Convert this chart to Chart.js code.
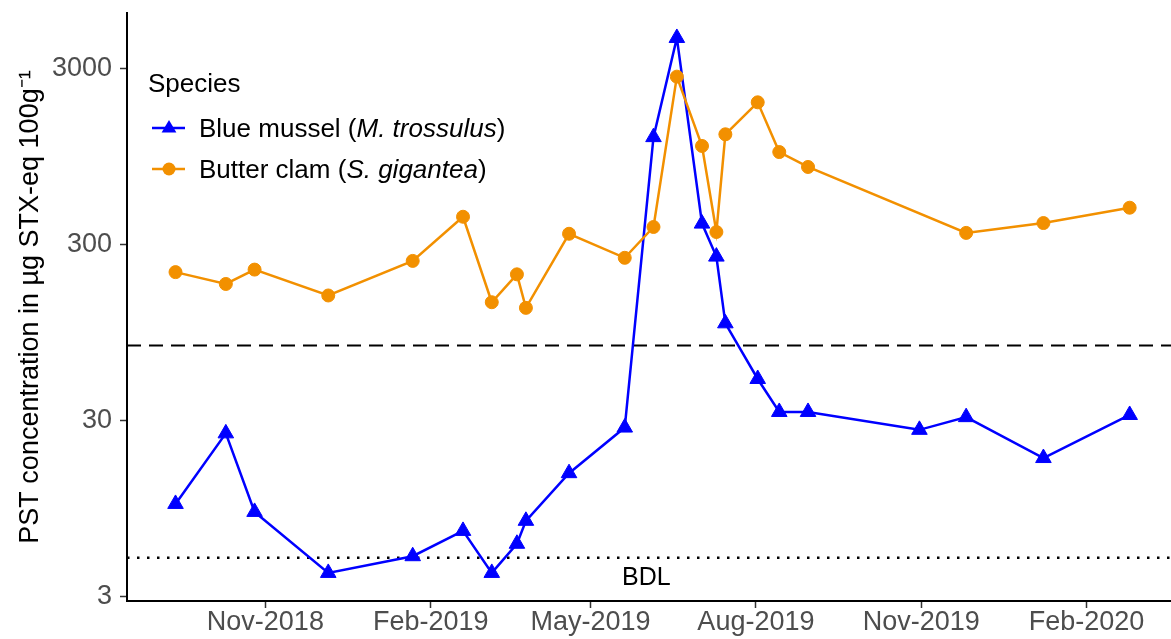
<!DOCTYPE html>
<html>
<head>
<meta charset="utf-8">
<script src="https://cdn.jsdelivr.net/npm/chart.js@4.4.1/dist/chart.umd.min.js"></script>
<style>
  html, body { margin: 0; padding: 0; background: #fff; }
  #wrap { position: relative; width: 1171px; height: 639px; }
  #legend {
    position: absolute; left: 148px; top: 69px;
    font-family: 'Liberation Sans', Arial, Helvetica, sans-serif;
    font-size: 26px; color: #000; line-height: 28px;
  }
  #legend .row { display: flex; align-items: center; height: 28px; }
  #legend .row svg { margin-left: 4px; margin-right: 14px; }
</style>
</head>
<body>
<div id="wrap">
  <canvas id="pstChart" width="1171" height="639"></canvas>
  <div id="legend"></div>
</div>
<script>
(() => {
  // sampling dates shared by both species
  const sampleDates = [
    '2018-09-12', '2018-10-10', '2018-10-26', '2018-12-06', '2019-01-22',
    '2019-02-19', '2019-03-07', '2019-03-21', '2019-03-26', '2019-04-19',
    '2019-05-20', '2019-06-05', '2019-06-18', '2019-07-02', '2019-07-10',
    '2019-07-15', '2019-08-02', '2019-08-14', '2019-08-30', '2019-10-31',
    '2019-11-26', '2020-01-08', '2020-02-25'
  ];
  // PST, µg STX-eq / 100 g
  const musselPST = [
    10.1, 25.4, 9.1, 4.1, 5.1,
    7.1, 4.1, 6.0, 8.1, 15.1,
    27.4, 1220, 4460, 394, 256,
    107, 51.7, 33.6, 33.6, 26.6,
    31.4, 18.4, 32.3
  ];
  const clamPST = [
    209, 179, 216, 154, 242,
    431, 141, 203, 131, 345,
    252, 377, 2690, 1087, 353,
    1266, 1923, 1004, 826, null,
    349, 397, 485
  ];

  const seriesNames = ['Blue mussel', 'Butter clam'];
  const seriesLatin = ['M. trossulus', 'S. gigantea'];

  const tickDates = ['2018-11-01', '2019-02-01', '2019-05-01', '2019-08-01', '2019-11-01', '2020-02-01'];
  const tickLabels = ['Nov-2018', 'Feb-2019', 'May-2019', 'Aug-2019', 'Nov-2019', 'Feb-2020'];
  const yTicks = [3, 30, 300, 3000];

  const regulatoryLimit = 80;
  const bdlValue = 5;
  const bdlLabel = { date: '2019-06-01', value: 3.85, text: 'BDL' };

  const xStart = '2018-08-16';
  const xEnd = '2020-03-19';
  const yMin = 2.84;
  const yMax = 6180;

  const colors = { mussel: '#0000ff', clam: '#f29000', ref: '#000000', tick: '#4d4d4d' };
  const fontFamily = "'Liberation Sans', Arial, Helvetica, sans-serif";

  const toTime = (d) => Date.parse(d + 'T00:00:00Z');
  const toPoints = (values) => sampleDates
    .map((d, i) => ({ x: toTime(d), y: values[i] }))
    .filter((p) => p.y !== null);

  const hline = (value) => [{ x: toTime(xStart), y: value }, { x: toTime(xEnd), y: value }];

  const bdlText = {
    id: 'bdlText',
    afterDatasetsDraw(chart) {
      const { ctx, scales } = chart;
      ctx.save();
      ctx.font = `25px ${fontFamily}`;
      ctx.fillStyle = '#000';
      ctx.textAlign = 'center';
      ctx.textBaseline = 'middle';
      ctx.fillText(bdlLabel.text, scales.x.getPixelForValue(toTime(bdlLabel.date)), scales.y.getPixelForValue(bdlLabel.value));
      ctx.restore();
    }
  };

  new Chart(document.getElementById('pstChart'), {
    type: 'line',
    data: {
      datasets: [
        {
          label: seriesNames[0],
          data: toPoints(musselPST),
          borderColor: colors.mussel,
          backgroundColor: colors.mussel,
          borderWidth: 2.5,
          pointStyle: 'triangle',
          pointRadius: 9,
          pointBorderWidth: 1,
          order: 2
        },
        {
          label: seriesNames[1],
          data: toPoints(clamPST),
          borderColor: colors.clam,
          backgroundColor: colors.clam,
          borderWidth: 2.5,
          pointStyle: 'circle',
          pointRadius: 6.5,
          pointBorderWidth: 1,
          order: 1
        },
        {
          label: 'limit',
          data: hline(regulatoryLimit),
          borderColor: colors.ref,
          borderWidth: 2,
          borderDash: [14, 8],
          pointRadius: 0,
          order: 3
        },
        {
          label: 'BDL',
          data: hline(bdlValue),
          borderColor: colors.ref,
          borderWidth: 2.5,
          borderDash: [2.5, 7.5],
          pointRadius: 0,
          order: 4
        }
      ]
    },
    options: {
      responsive: false,
      animation: false,
      devicePixelRatio: 1,
      layout: { autoPadding: false, padding: { left: 0, right: 0, top: 13, bottom: 0 } },
      plugins: { legend: { display: false }, tooltip: { enabled: false } },
      scales: {
        x: {
          type: 'linear',
          min: toTime(xStart),
          max: toTime(xEnd),
          afterBuildTicks: (s) => { s.ticks = tickDates.map((d) => ({ value: toTime(d) })); },
          afterFit: (s) => { s.height = 38; s.paddingLeft = 0; s.paddingRight = 0; },
          ticks: {
            callback: (v, i) => tickLabels[i],
            font: { family: fontFamily, size: 27, lineHeight: 1 },
            color: colors.tick,
            padding: 1,
            maxRotation: 0,
            autoSkip: false
          },
          grid: { drawOnChartArea: false, drawTicks: true, tickLength: 7, tickColor: '#333', tickWidth: 1.5 },
          border: { display: true, color: '#000', width: 2 }
        },
        y: {
          type: 'logarithmic',
          min: yMin,
          max: yMax,
          afterBuildTicks: (s) => { s.ticks = yTicks.map((v) => ({ value: v })); },
          afterFit: (s) => { s.width = 127; s.paddingTop = 0; s.paddingBottom = 0; },
          ticks: {
            callback: (v) => String(v),
            font: { family: fontFamily, size: 27 },
            color: colors.tick,
            padding: 8
          },
          grid: { drawOnChartArea: false, drawTicks: true, tickLength: 7, tickColor: '#333', tickWidth: 1.5 },
          border: { display: true, color: '#000', width: 2 },
          title: {
            display: true,
            text: 'PST concentration in µg STX-eq 100g⁻¹',
            font: { family: fontFamily, size: 27 },
            color: '#000',
            padding: { top: 14, bottom: 0 }
          }
        }
      }
    },
    plugins: [bdlText]
  });

  // legend with italic species names
  const legend = document.getElementById('legend');
  const title = document.createElement('div');
  title.textContent = 'Species';
  legend.appendChild(title);
  const symbols = [
    `<polygon points="17,6 24.4,18.5 9.6,18.5" fill="${colors.mussel}"/>`,
    `<circle cx="17" cy="14" r="6.5" fill="${colors.clam}"/>`
  ];
  const lineColors = [colors.mussel, colors.clam];
  seriesNames.forEach((name, i) => {
    const row = document.createElement('div');
    row.className = 'row';
    row.style.marginTop = i === 0 ? '17px' : '13px';
    row.innerHTML = `<svg width="33" height="28"><line x1="0" y1="14" x2="33" y2="14" stroke="${lineColors[i]}" stroke-width="2.5"/>${symbols[i]}</svg>` +
      `<span>${name} (<i>${seriesLatin[i]}</i>)</span>`;
    legend.appendChild(row);
  });
})();
</script>
</body>
</html>
